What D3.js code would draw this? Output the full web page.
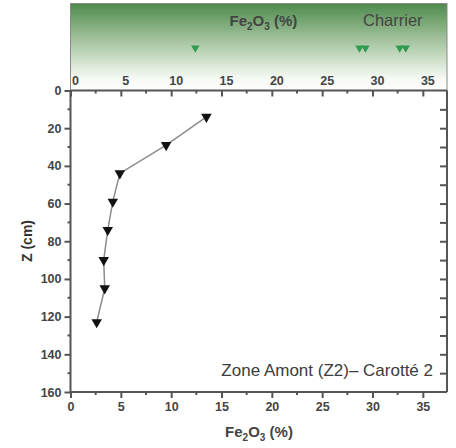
<!DOCTYPE html>
<html>
<head>
<meta charset="utf-8">
<script src="https://cdn.jsdelivr.net/npm/d3@7"></script>
<style>
  body { margin: 0; background: #fff; }
  text { font-family: "Liberation Sans", Arial, sans-serif; }
</style>
</head>
<body>
<div id="wrapper"></div>
<script>
// core profile: Fe2O3 (%) vs depth Z (cm)
const fe2o3 = [13.5, 9.5, 4.9, 4.2, 3.7, 3.3, 3.4, 2.6]
const depth = [14, 29, 44, 59, 74, 90, 105, 123]
// Charrier reference values (top strip)
const charrier = [12.4, 28.7, 29.3, 32.7, 33.3]
const xTicks = [0, 5, 10, 15, 20, 25, 30, 35]
const yTicks = [0, 20, 40, 60, 80, 100, 120, 140, 160]

function drawChart() {
    const dimensions = {
        width: 456,
        height: 448,
        margin: { top: 90.5, right: 9, bottom: 56, left: 70.5 }
    }
    dimensions.boundedWidth = dimensions.width - dimensions.margin.left - dimensions.margin.right
    dimensions.boundedHeight = dimensions.height - dimensions.margin.top - dimensions.margin.bottom

    const svg = d3.select('#wrapper').append('svg')
        .attr('width', dimensions.width)
        .attr('height', dimensions.height)

    const defs = svg.append('defs')
    const grad = defs.append('linearGradient')
        .attr('id', 'greenFade')
        .attr('x1', 0).attr('y1', 0).attr('x2', 0).attr('y2', 1)
    grad.append('stop').attr('offset', '0%').attr('stop-color', '#4e8b4c')
    grad.append('stop').attr('offset', '45%').attr('stop-color', '#a9c7a3')
    grad.append('stop').attr('offset', '85%').attr('stop-color', '#f4f8f2')
    grad.append('stop').attr('offset', '100%').attr('stop-color', '#ffffff')

    const xScale = d3.scaleLinear()
        .domain([0, 37.4])
        .range([0, dimensions.boundedWidth])
    const yScale = d3.scaleLinear()
        .domain([0, 160])
        .range([0, dimensions.boundedHeight])

    // top strip (Charrier)
    const strip = svg.append('g')
        .attr('transform', `translate(${dimensions.margin.left}, 0)`)
    strip.append('rect')
        .attr('x', 0).attr('y', 3.5)
        .attr('width', dimensions.boundedWidth)
        .attr('height', dimensions.margin.top - 3.5)
        .attr('fill', 'url(#greenFade)')
        .attr('stroke', '#8a8a8a')
        .attr('stroke-width', 1)

    const t1 = strip.append('text')
        .attr('x', 159).attr('y', 26)
        .attr('font-size', 15).attr('font-weight', 'bold').attr('fill', '#444')
    t1.append('tspan').text('Fe')
    t1.append('tspan').text('2').attr('font-size', 10).attr('dy', 4)
    t1.append('tspan').text('O').attr('dy', -4)
    t1.append('tspan').text('3').attr('font-size', 10).attr('dy', 4)
    t1.append('tspan').text(' (%)').attr('dy', -4)

    strip.append('text')
        .attr('x', 292.5).attr('y', 26)
        .attr('font-size', 16.5).attr('fill', '#444')
        .text('Charrier')

    const tri = d3.symbol().type(d3.symbolTriangle).size(30)
    strip.selectAll('.charrier')
        .data(charrier)
        .enter()
        .append('path')
        .attr('d', tri)
        .attr('transform', d => `translate(${xScale(d)}, 48) rotate(180)`)
        .attr('fill', '#2f9a50')

    strip.selectAll('.toplabel')
        .data(xTicks)
        .enter()
        .append('text')
        .attr('x', d => xScale(d) + 5)
        .attr('y', 85)
        .attr('text-anchor', 'middle')
        .attr('font-size', 12.5)
        .attr('font-weight', 'bold')
        .attr('fill', '#444')
        .text(d => d)

    // main plot
    const bounds = svg.append('g')
        .attr('transform', `translate(${dimensions.margin.left}, ${dimensions.margin.top})`)

    const minorX = d3.range(0, 37.5, 2.5).filter(d => d % 5 !== 0)
    const minorY = d3.range(10, 160, 20)

    const bottomAxis = d3.axisBottom(xScale).tickValues(xTicks).tickSize(6).tickPadding(4)
    const topAxis = d3.axisTop(xScale).tickValues(xTicks).tickSize(-6).tickFormat('')
    const leftAxis = d3.axisLeft(yScale).tickValues(yTicks).tickSize(6).tickPadding(3)
    const rightAxis = d3.axisRight(yScale).tickValues(d3.range(10, 160, 10)).tickSize(-7).tickFormat('')

    const styleAxis = g => {
        g.select('.domain').attr('stroke', '#555').attr('stroke-width', 2)
        g.selectAll('.tick line').attr('stroke', '#555').attr('stroke-width', 2)
        g.selectAll('.tick text')
            .attr('font-size', 12.5)
            .attr('font-weight', 'bold')
            .attr('fill', '#444')
            .attr('font-family', '"Liberation Sans", Arial, sans-serif')
    }

    bounds.append('g')
        .attr('transform', `translate(0, ${dimensions.boundedHeight})`)
        .call(bottomAxis).call(styleAxis)
        .call(g => g.selectAll('.domain').attr('d', `M0,0H${dimensions.boundedWidth}`))
    bounds.append('g').call(topAxis).call(styleAxis)
        .call(g => g.selectAll('.domain').attr('d', `M0,0H${dimensions.boundedWidth}`))
    bounds.append('g').call(leftAxis).call(styleAxis)
        .call(g => g.selectAll('.domain').attr('d', `M0,0V${dimensions.boundedHeight}`))
    bounds.append('g')
        .attr('transform', `translate(${dimensions.boundedWidth}, 0)`)
        .call(rightAxis).call(styleAxis)
        .call(g => g.selectAll('.domain').attr('d', `M0,0V${dimensions.boundedHeight}`))

    // minor ticks
    bounds.selectAll('.minorB')
        .data(minorX).enter().append('line')
        .attr('x1', d => xScale(d)).attr('x2', d => xScale(d))
        .attr('y1', dimensions.boundedHeight).attr('y2', dimensions.boundedHeight + 3)
        .attr('stroke', '#555').attr('stroke-width', 2)
    bounds.selectAll('.minorT')
        .data(minorX).enter().append('line')
        .attr('x1', d => xScale(d)).attr('x2', d => xScale(d))
        .attr('y1', 0).attr('y2', 3)
        .attr('stroke', '#555').attr('stroke-width', 2)
    bounds.selectAll('.minorL')
        .data(minorY).enter().append('line')
        .attr('x1', 0).attr('x2', -3)
        .attr('y1', d => yScale(d)).attr('y2', d => yScale(d))
        .attr('stroke', '#555').attr('stroke-width', 2)

    // profile line + markers
    const points = fe2o3.map((v, i) => [v, depth[i]])
    const line = d3.line()
        .x(d => xScale(d[0]))
        .y(d => yScale(d[1]))
    bounds.append('path')
        .datum(points)
        .attr('d', line)
        .attr('fill', 'none')
        .attr('stroke', '#8c8c8c')
        .attr('stroke-width', 1.5)

    const triMain = d3.symbol().type(d3.symbolTriangle).size(48)
    bounds.selectAll('.pt')
        .data(points)
        .enter()
        .append('path')
        .attr('d', triMain)
        .attr('transform', d => `translate(${xScale(d[0])}, ${yScale(d[1])}) rotate(180)`)
        .attr('fill', '#111')

    bounds.append('text')
        .attr('x', dimensions.boundedWidth - 14)
        .attr('y', yScale(151.5))
        .attr('text-anchor', 'end')
        .attr('font-size', 17)
        .attr('fill', '#3c3c3c')
        .text('Zone Amont (Z2)– Carotté 2')

    // axis titles
    const xt = svg.append('text')
        .attr('x', 259).attr('y', 437)
        .attr('text-anchor', 'middle')
        .attr('font-size', 15).attr('font-weight', 'bold').attr('fill', '#444')
    xt.append('tspan').text('Fe')
    xt.append('tspan').text('2').attr('font-size', 10).attr('dy', 4)
    xt.append('tspan').text('O').attr('dy', -4)
    xt.append('tspan').text('3').attr('font-size', 10).attr('dy', 4)
    xt.append('tspan').text(' (%)').attr('dy', -4)

    svg.append('text')
        .attr('transform', 'translate(32, 241) rotate(-90)')
        .attr('text-anchor', 'middle')
        .attr('font-size', 14).attr('font-weight', 'bold').attr('fill', '#333')
        .text('Z (cm)')
}

drawChart()
</script>
</body>
</html>
